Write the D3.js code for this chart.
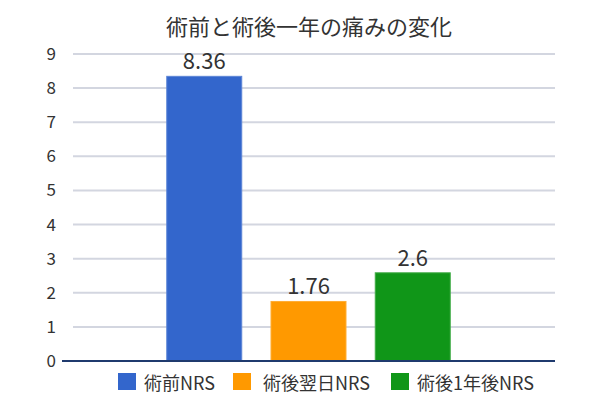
<!DOCTYPE html>
<html><head><meta charset="utf-8">
<script src="https://cdn.jsdelivr.net/npm/d3@7"></script>
<style>html,body{margin:0;padding:0;background:#fff;}</style>
</head><body>
<script>
const title = "術前と術後一年の痛みの変化";
const seriesNames = ["術前NRS", "術後翌日NRS", "術後1年後NRS"];
const seriesValues = [8.36, 1.76, 2.6];
const valueLabels = ["8.36", "1.76", "2.6"];
const seriesColors = ["#3366cc", "#ff9900", "#109618"];
const strokeColors = ["#5c85d6", "#ffad33", "#40ab46"];
const yTicks = [0, 1, 2, 3, 4, 5, 6, 7, 8, 9];

const W = 609, H = 411;
const font = "'Noto Sans CJK JP', 'Noto Sans', sans-serif";
const svg = d3.select("body").append("svg").attr("width", W).attr("height", H)
  .style("font-family", font);

const x = d3.scaleBand().domain(seriesNames).range([62, 555]).paddingInner(0.271).paddingOuter(1.0);
const y = d3.scaleLinear().domain([0, 9]).range([361, 54]);

svg.append("text").attr("x", 309).attr("y", 35).attr("text-anchor", "middle")
  .attr("font-size", 22).attr("fill", "#333").text(title);

// grid
svg.append("g").selectAll("line").data(yTicks.filter(d => d > 0)).join("line")
  .attr("x1", 73).attr("x2", 555).attr("y1", d => y(d)).attr("y2", d => y(d))
  .attr("stroke", "#d3d6e0").attr("stroke-width", 2);

// y axis labels
const yAxis = d3.axisLeft(y).tickValues(yTicks).tickSize(0).tickPadding(0).tickFormat(d3.format("d"));
const yg = svg.append("g").attr("transform", "translate(56,0)").call(yAxis);
yg.select(".domain").remove();
yg.selectAll("text").attr("font-size", 17).attr("fill", "#333").style("font-family", font);

// bars
svg.append("g").selectAll("rect").data(seriesNames).join("rect")
  .attr("x", d => x(d) + 0.5).attr("width", x.bandwidth() - 1)
  .attr("y", (d, i) => y(seriesValues[i]) + 0.5)
  .attr("height", (d, i) => y(0) - y(seriesValues[i]) - 0.5)
  .attr("fill", (d, i) => seriesColors[i])
  .attr("stroke", (d, i) => strokeColors[i]).attr("stroke-width", 1);

// value labels
svg.append("g").selectAll("text").data(seriesNames).join("text")
  .attr("x", d => x(d) + x.bandwidth() / 2)
  .attr("y", (d, i) => y(seriesValues[i]) - 6.5)
  .attr("text-anchor", "middle").attr("font-size", 22).attr("fill", "#333")
  .text((d, i) => valueLabels[i]);

// baseline axis
svg.append("line").attr("x1", 62).attr("x2", 555).attr("y1", y(0)).attr("y2", y(0))
  .attr("stroke", "#1f3a6e").attr("stroke-width", 2);

// legend
const legX = [118, 233, 391];
const leg = svg.append("g").selectAll("g").data(seriesNames).join("g")
  .attr("transform", (d, i) => `translate(${legX[i]},373)`);
leg.append("rect").attr("width", 18).attr("height", 17).attr("fill", (d, i) => seriesColors[i]);
leg.append("text").attr("x", (d, i) => i === 1 ? 30 : 26).attr("y", 17).attr("font-size", 18)
  .attr("fill", "#333").text(d => d);
</script>
</body></html>
